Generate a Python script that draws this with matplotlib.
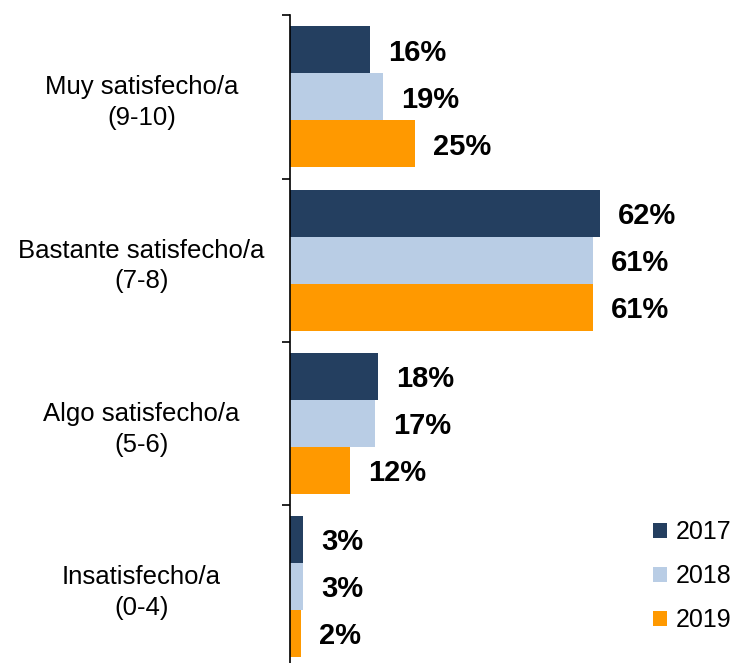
import numpy as np
import matplotlib.pyplot as plt

plt.rcParams['font.family'] = ['Liberation Sans', 'DejaVu Sans']

categories = ['Muy satisfecho/a\n(9-10)', 'Bastante satisfecho/a\n(7-8)',
              'Algo satisfecho/a\n(5-6)', 'Insatisfecho/a\n(0-4)']
years = ['2017', '2018', '2019']
v2017 = [16.0, 62.0, 17.6, 2.6]
v2018 = [18.6, 60.5, 17.0, 2.6]
v2019 = [25.0, 60.5, 12.0, 2.2]
lab2017 = ['16%', '62%', '18%', '3%']
lab2018 = ['19%', '61%', '17%', '3%']
lab2019 = ['25%', '61%', '12%', '2%']
colors = ['#243F60', '#B9CDE5', '#FF9900']

fig = plt.figure(figsize=(7.35, 6.63), dpi=100)
ax = fig.add_axes([0.3946, -0.008, 0.6054, 0.985])

y = np.arange(len(categories))
h = 0.288
series = [(v2017, lab2017), (v2018, lab2018), (v2019, lab2019)]
for i, (vals, labs) in enumerate(series):
    pos = y + (i - 1) * h
    bars = ax.barh(pos, vals, height=h, color=colors[i], label=years[i])
    for b, lab in zip(bars, labs):
        ax.annotate(lab, (b.get_width(), b.get_y() + b.get_height() / 2),
                    xytext=(13, -2), textcoords='offset points',
                    va='center', ha='left', fontsize=21, fontweight='bold')

ax.set_xlim(0, 89)
ax.set_ylim(3.5, -0.5)
ax.set_xticks([])
for s in ['top', 'right', 'bottom']:
    ax.spines[s].set_visible(False)
ax.spines['left'].set_linewidth(1.2)

ax.set_yticks(y)
ax.set_yticklabels(categories, fontsize=18.5, ha='center', linespacing=1.35)
ax.tick_params(axis='y', which='major', length=0, pad=107)
ax.set_yticks(np.arange(-0.5, 3.6, 1), minor=True)
ax.tick_params(axis='y', which='minor', length=6, width=1.2, direction='out')

ax.legend(loc='lower right', bbox_to_anchor=(1.015, 0.04), frameon=False,
          fontsize=18, handlelength=0.55, handleheight=0.55,
          labelspacing=0.8, handletextpad=0.35, borderaxespad=0)

fig.savefig('out.png', dpi=100)
